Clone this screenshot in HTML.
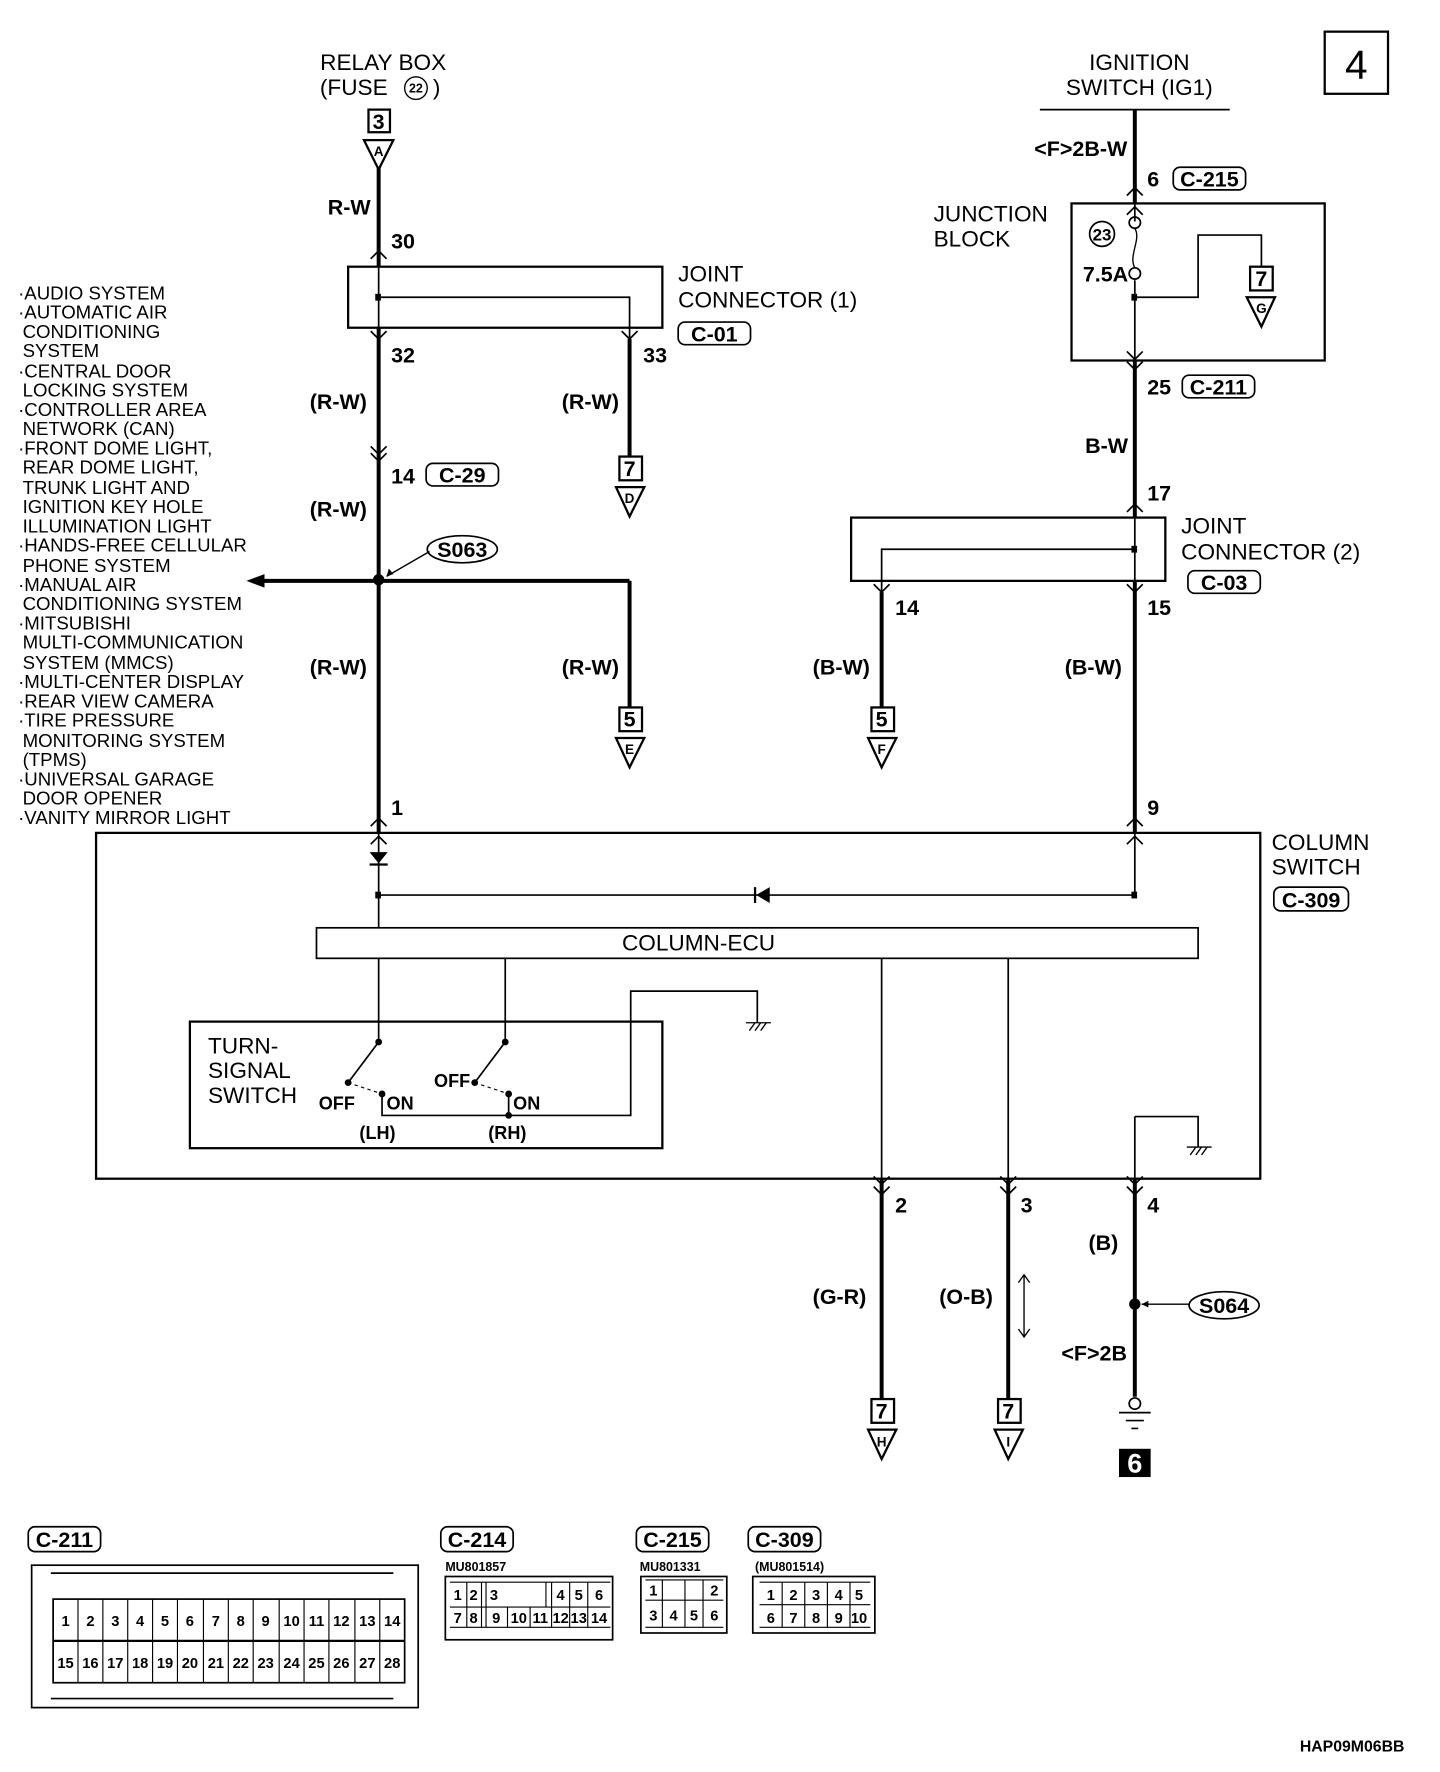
<!DOCTYPE html>
<html><head><meta charset="utf-8"><style>
html,body{margin:0;padding:0;background:#fff;}
svg{display:block;}
.t{font-family:"Liberation Sans",sans-serif;font-size:20px;fill:#000;}
.b{font-family:"Liberation Sans Narrow","Liberation Sans",sans-serif;font-weight:bold;font-size:19px;fill:#000;}
.s{font-family:"Liberation Sans",sans-serif;font-size:16.5px;fill:#000;}
.n{font-family:"Liberation Sans Narrow","Liberation Sans",sans-serif;font-weight:bold;font-size:14px;fill:#000;}
</style></head><body>
<svg width="1440" height="1772" viewBox="0 0 1274 1568" preserveAspectRatio="none" xmlns="http://www.w3.org/2000/svg">
<defs>
<g id="up"><path d="M-7,7 L0,0 L7,7" fill="none" stroke="#000" stroke-width="1.5"/></g>
<g id="dn"><path d="M-7,-7 L0,0 L7,-7" fill="none" stroke="#000" stroke-width="1.5"/></g>
</defs>
<g stroke="#000" fill="none">
<line x1="335" y1="148" x2="335" y2="236" stroke-width="3.5"/>
<line x1="335" y1="236" x2="335" y2="290" stroke-width="1.5"/>
<line x1="335" y1="290" x2="335" y2="737" stroke-width="3.5"/>
<line x1="335" y1="737" x2="335" y2="821" stroke-width="1.5"/>
<rect x="308" y="236" width="278" height="54" stroke-width="2"/>
<polyline points="335,263 557,263 557,300" stroke-width="1.5"/>
<line x1="557" y1="300" x2="557" y2="404" stroke-width="3.5"/>
<line x1="230" y1="514" x2="557" y2="514" stroke-width="3.5"/>
<line x1="557" y1="514" x2="557" y2="626" stroke-width="3.5"/>
<line x1="920" y1="97" x2="1088" y2="97" stroke-width="1.5"/>
<line x1="1004" y1="97" x2="1004" y2="180" stroke-width="3.5"/>
<line x1="1004" y1="180" x2="1004" y2="196" stroke-width="1.5"/>
<rect x="948" y="180" width="224" height="139" stroke-width="2"/>
<line x1="1004" y1="248" x2="1004" y2="319" stroke-width="1.5"/>
<polyline points="1004,263 1060,263 1060,208 1116,208 1116,236" stroke-width="1.5"/>
<line x1="1004" y1="319" x2="1004" y2="458" stroke-width="3.5"/>
<rect x="753" y="458" width="278" height="56" stroke-width="2"/>
<line x1="1004" y1="458" x2="1004" y2="514" stroke-width="1.5"/>
<polyline points="1004,486 780,486 780,524" stroke-width="1.5"/>
<line x1="780" y1="524" x2="780" y2="626" stroke-width="3.5"/>
<line x1="1004" y1="514" x2="1004" y2="737" stroke-width="3.5"/>
<line x1="1004" y1="737" x2="1004" y2="792" stroke-width="1.5"/>
<rect x="85" y="737" width="1030" height="306" stroke-width="2"/>
<line x1="335" y1="792" x2="1004" y2="792" stroke-width="1.5"/>
<rect x="280" y="821" width="780" height="27" stroke-width="1.5"/>
<line x1="335" y1="848" x2="335" y2="922" stroke-width="1.5"/>
<line x1="447" y1="848" x2="447" y2="922" stroke-width="1.5"/>
<rect x="168" y="904" width="418" height="112" stroke-width="2"/>
<line x1="335" y1="922" x2="308" y2="958" stroke-width="1.5"/>
<line x1="447" y1="922" x2="420" y2="958" stroke-width="1.5"/>
<path d="M308,958 L338,968 M420,958 L450,968" stroke-width="1" stroke-dasharray="3,3"/>
<polyline points="338,968 338,987 558,987 558,877 670,877 670,905" stroke-width="1.5"/>
<line x1="450" y1="968" x2="450" y2="987" stroke-width="1.5"/>
<path d="M660,905 H682 M663,912 l5,-7 M668,912 l5,-7 M673,912 l5,-7" stroke-width="1.2"/>
<polyline points="1004,988 1060,988 1060,1015" stroke-width="1.5"/>
<path d="M1050,1015 H1072 M1053,1022 l5,-7 M1058,1022 l5,-7 M1063,1022 l5,-7" stroke-width="1.2"/>
<line x1="780" y1="848" x2="780" y2="1043" stroke-width="1.5"/>
<line x1="892" y1="848" x2="892" y2="1043" stroke-width="1.5"/>
<line x1="1004" y1="988" x2="1004" y2="1043" stroke-width="1.5"/>
<line x1="780" y1="1043" x2="780" y2="1238" stroke-width="3.5"/>
<line x1="892" y1="1043" x2="892" y2="1238" stroke-width="3.5"/>
<line x1="1004" y1="1043" x2="1004" y2="1236" stroke-width="3.5"/>
<circle cx="1004" cy="1242" r="5" stroke-width="1.5" fill="#fff"/>
<path d="M990,1250 H1018 M996,1257 H1012 M1001,1264 H1007" stroke-width="1.5"/>
<path d="M906,1128 V1183 M901,1135 L906,1128 L911,1135 M901,1176 L906,1183 L911,1176" stroke-width="1.2"/>
<path d="M380,488 L342,510" stroke-width="1.2"/>
<path d="M1052,1154 L1010,1154" stroke-width="1.2"/>
<ellipse cx="409" cy="486" rx="31" ry="12" stroke-width="1.5"/>
<ellipse cx="1083" cy="1155" rx="31" ry="12" stroke-width="1.5"/>
<circle cx="1004" cy="197" r="5" stroke-width="1.5"/>
<circle cx="1004" cy="242" r="5" stroke-width="1.5"/>
<path d="M1004,202 C1010,212 998,226 1004,237" stroke-width="1.2"/>
<circle cx="975" cy="207" r="11" stroke-width="1.5"/>
<circle cx="368" cy="78" r="10" stroke-width="1.2"/>
<rect x="326" y="97" width="19" height="20" stroke-width="2"/>
<path d="M322,124 H348 L335,150 Z" stroke-width="2"/>
<rect x="548" y="404" width="20" height="21" stroke-width="2"/>
<path d="M545,431 H570 L557,457 Z" stroke-width="2"/>
<rect x="548" y="626" width="20" height="21" stroke-width="2"/>
<path d="M545,653 H570 L557,679 Z" stroke-width="2"/>
<rect x="771" y="626" width="20" height="21" stroke-width="2"/>
<path d="M768,653 H793 L780,679 Z" stroke-width="2"/>
<rect x="1106" y="236" width="20" height="21" stroke-width="2"/>
<path d="M1103,263 H1128 L1116,289 Z" stroke-width="2"/>
<rect x="771" y="1238" width="20" height="21" stroke-width="2"/>
<path d="M768,1265 H793 L780,1291 Z" stroke-width="2"/>
<rect x="883" y="1238" width="20" height="21" stroke-width="2"/>
<path d="M880,1265 H905 L892,1291 Z" stroke-width="2"/>
<rect x="600" y="285" width="64" height="20" rx="6" stroke-width="1.5"/>
<rect x="377" y="410" width="64" height="20" rx="6" stroke-width="1.5"/>
<rect x="1038" y="148" width="64" height="20" rx="6" stroke-width="1.5"/>
<rect x="1046" y="332" width="64" height="20" rx="6" stroke-width="1.5"/>
<rect x="1051" y="505" width="64" height="20" rx="6" stroke-width="1.5"/>
<rect x="1127" y="785" width="66" height="21" rx="6" stroke-width="1.5"/>
<rect x="1172" y="28" width="56" height="55" stroke-width="2"/>
</g>
<use href="#up" x="335" y="222"/><use href="#dn" x="335" y="300"/><use href="#dn" x="557" y="300"/>
<use href="#dn" x="335" y="402"/><use href="#dn" x="335" y="408"/>
<use href="#up" x="335" y="724"/><use href="#up" x="335" y="740"/>
<use href="#up" x="1004" y="166"/><use href="#up" x="1004" y="183"/>
<use href="#dn" x="1004" y="318"/><use href="#dn" x="1004" y="327"/>
<use href="#up" x="1004" y="446"/><use href="#dn" x="1004" y="524"/><use href="#dn" x="780" y="524"/>
<use href="#up" x="1004" y="724"/><use href="#up" x="1004" y="740"/>
<use href="#dn" x="780" y="1048"/><use href="#dn" x="780" y="1057"/>
<use href="#dn" x="892" y="1048"/><use href="#dn" x="892" y="1057"/>
<use href="#dn" x="1004" y="1048"/><use href="#dn" x="1004" y="1057"/>
<g fill="#000">
<path d="M218,514 L234,508 L234,520 Z"/>
<circle cx="335" cy="513" r="5"/>
<circle cx="1004" cy="1154" r="5"/>
<path d="M1010,1154 l6,-3 v6 z"/>
<path d="M342,510 l2,-7 l4,5 z"/>
<path d="M327,754 H343 L335,764 Z"/><rect x="327" y="764" width="16" height="2"/>
<path d="M669,792 L681,785 L681,799 Z"/><rect x="667" y="785" width="2" height="14"/>
<rect x="332" y="260" width="5" height="6"/><rect x="1001" y="483" width="5" height="6"/>
<rect x="1001" y="260" width="5" height="6"/>
<rect x="332" y="789" width="5" height="6"/><rect x="1001" y="789" width="5" height="6"/>
<circle cx="335" cy="922" r="3"/><circle cx="447" cy="922" r="3"/>
<circle cx="308" cy="958" r="3"/><circle cx="420" cy="958" r="3"/>
<circle cx="338" cy="968" r="3"/><circle cx="450" cy="968" r="3"/><circle cx="450" cy="987" r="3"/>
<rect x="990" y="1282" width="28" height="25"/>
</g>
<text class="t" x="339" y="62" text-anchor="middle">RELAY BOX</text>
<text class="t" x="283" y="84">(FUSE</text><text class="t" x="383" y="84">)</text>
<text class="n" x="368" y="82" text-anchor="middle" style="font-size:11px">22</text>
<text class="b" x="335" y="114" text-anchor="middle">3</text>
<text class="n" x="335" y="138" text-anchor="middle" style="font-size:12px">A</text>
<text class="b" x="290" y="190">R-W</text>
<text class="b" x="346" y="220">30</text>
<text class="t" x="600" y="249">JOINT</text><text class="t" x="600" y="272">CONNECTOR (1)</text>
<text class="b" x="632" y="302" text-anchor="middle">C-01</text>
<text class="b" x="346" y="321">32</text><text class="b" x="569" y="321">33</text>
<text class="b" x="274" y="362">(R-W)</text><text class="b" x="497" y="362">(R-W)</text>
<text class="b" x="557" y="421" text-anchor="middle">7</text><text class="n" x="557" y="445" text-anchor="middle" style="font-size:12px">D</text>
<text class="b" x="346" y="428">14</text><text class="b" x="409" y="427" text-anchor="middle">C-29</text>
<text class="b" x="274" y="457">(R-W)</text>
<text class="b" x="409" y="493" text-anchor="middle">S063</text>
<text class="b" x="274" y="597">(R-W)</text><text class="b" x="497" y="597">(R-W)</text>
<text class="b" x="557" y="643" text-anchor="middle">5</text><text class="n" x="557" y="667" text-anchor="middle" style="font-size:12px">E</text>
<text class="b" x="346" y="721">1</text>
<g class="s">
<text x="16" y="265">·AUDIO SYSTEM</text>
<text x="16" y="282">·AUTOMATIC AIR</text>
<text x="20" y="299">CONDITIONING</text>
<text x="20" y="316">SYSTEM</text>
<text x="16" y="334">·CENTRAL DOOR</text>
<text x="20" y="351">LOCKING SYSTEM</text>
<text x="16" y="368">·CONTROLLER AREA</text>
<text x="20" y="385">NETWORK (CAN)</text>
<text x="16" y="402">·FRONT DOME LIGHT,</text>
<text x="20" y="419">REAR DOME LIGHT,</text>
<text x="20" y="437">TRUNK LIGHT AND</text>
<text x="20" y="454">IGNITION KEY HOLE</text>
<text x="20" y="471">ILLUMINATION LIGHT</text>
<text x="16" y="488">·HANDS-FREE CELLULAR</text>
<text x="20" y="506">PHONE SYSTEM</text>
<text x="16" y="523">·MANUAL AIR</text>
<text x="20" y="540">CONDITIONING SYSTEM</text>
<text x="16" y="557">·MITSUBISHI</text>
<text x="20" y="574">MULTI-COMMUNICATION</text>
<text x="20" y="592">SYSTEM (MMCS)</text>
<text x="16" y="609">·MULTI-CENTER DISPLAY</text>
<text x="16" y="626">·REAR VIEW CAMERA</text>
<text x="16" y="643">·TIRE PRESSURE</text>
<text x="20" y="661">MONITORING SYSTEM</text>
<text x="20" y="678">(TPMS)</text>
<text x="16" y="695">·UNIVERSAL GARAGE</text>
<text x="20" y="712">DOOR OPENER</text>
<text x="16" y="729">·VANITY MIRROR LIGHT</text>
</g>
<text class="t" x="1008" y="62" text-anchor="middle">IGNITION</text>
<text class="t" x="1008" y="84" text-anchor="middle">SWITCH (IG1)</text>
<text class="t" x="1200" y="70" text-anchor="middle" style="font-size:36px">4</text>
<text class="b" x="915" y="138">&lt;F&gt;2B-W</text>
<text class="b" x="1015" y="165">6</text><text class="b" x="1070" y="165" text-anchor="middle">C-215</text>
<text class="t" x="826" y="196">JUNCTION</text><text class="t" x="826" y="218">BLOCK</text>
<text class="b" x="975" y="213" text-anchor="middle" style="font-size:15px">23</text>
<text class="b" x="958" y="249">7.5A</text>
<text class="b" x="1116" y="253" text-anchor="middle">7</text><text class="n" x="1116" y="277" text-anchor="middle" style="font-size:12px">G</text>
<text class="b" x="1015" y="349">25</text><text class="b" x="1078" y="349" text-anchor="middle">C-211</text>
<text class="b" x="960" y="401">B-W</text>
<text class="b" x="1015" y="443">17</text>
<text class="t" x="1045" y="472">JOINT</text><text class="t" x="1045" y="495">CONNECTOR (2)</text>
<text class="b" x="1083" y="522" text-anchor="middle">C-03</text>
<text class="b" x="792" y="544">14</text><text class="b" x="1015" y="544">15</text>
<text class="b" x="719" y="597">(B-W)</text><text class="b" x="942" y="597">(B-W)</text>
<text class="b" x="780" y="643" text-anchor="middle">5</text><text class="n" x="780" y="667" text-anchor="middle" style="font-size:12px">F</text>
<text class="b" x="1015" y="721">9</text>
<text class="t" x="1125" y="752">COLUMN</text><text class="t" x="1125" y="774">SWITCH</text>
<text class="b" x="1160" y="803" text-anchor="middle">C-309</text>
<text class="t" x="618" y="841" text-anchor="middle">COLUMN-ECU</text>
<text class="t" x="184" y="932">TURN-</text><text class="t" x="184" y="954">SIGNAL</text><text class="t" x="184" y="976">SWITCH</text>
<text class="b" x="282" y="982" style="font-size:16px">OFF</text><text class="b" x="342" y="982" style="font-size:16px">ON</text>
<text class="b" x="384" y="962" style="font-size:16px">OFF</text><text class="b" x="454" y="982" style="font-size:16px">ON</text>
<text class="b" x="318" y="1008" style="font-size:16px">(LH)</text><text class="b" x="432" y="1008" style="font-size:16px">(RH)</text>
<text class="b" x="792" y="1073">2</text><text class="b" x="903" y="1073">3</text><text class="b" x="1015" y="1073">4</text>
<text class="b" x="963" y="1106">(B)</text>
<text class="b" x="719" y="1154">(G-R)</text><text class="b" x="831" y="1154">(O-B)</text>
<text class="b" x="1083" y="1162" text-anchor="middle">S064</text>
<text class="b" x="939" y="1204">&lt;F&gt;2B</text>
<text class="b" x="1004" y="1303" text-anchor="middle" style="fill:#fff;font-size:24px">6</text>
<text class="b" x="780" y="1255" text-anchor="middle">7</text><text class="n" x="780" y="1280" text-anchor="middle" style="font-size:12px">H</text>
<text class="b" x="892" y="1255" text-anchor="middle">7</text><text class="n" x="892" y="1280" text-anchor="middle" style="font-size:12px">I</text>
<text class="b" x="1150" y="1550" style="font-size:14px">HAP09M06BB</text>
<g stroke="#000" fill="none" stroke-width="1.5">
<rect x="25" y="1351" width="64" height="22" rx="6"/>
<rect x="390" y="1351" width="64" height="22" rx="6"/>
<rect x="563" y="1351" width="64" height="22" rx="6"/>
<rect x="662" y="1351" width="64" height="22" rx="6"/>
<rect x="28" y="1385" width="342" height="126"/>
<line x1="45" y1="1392" x2="348" y2="1392"/><line x1="45" y1="1503" x2="348" y2="1503"/>
<rect x="47" y="1415" width="311" height="74"/>
<line x1="47" y1="1452" x2="358" y2="1452" stroke-width="2"/>
<rect x="394" y="1395" width="148" height="56"/>
<rect x="567" y="1395" width="76" height="50"/>
<rect x="666" y="1395" width="108" height="50"/>
</g>
<text class="b" x="57" y="1369" text-anchor="middle">C-211</text>
<text class="b" x="422" y="1369" text-anchor="middle">C-214</text>
<text class="b" x="595" y="1369" text-anchor="middle">C-215</text>
<text class="b" x="694" y="1369" text-anchor="middle">C-309</text>
<text class="n" x="394" y="1390" style="font-size:11px">MU801857</text>
<text class="n" x="566" y="1390" style="font-size:11px">MU801331</text>
<text class="n" x="668" y="1390" style="font-size:11px">(MU801514)</text>
<g stroke="#000" stroke-width="1" fill="none">
<path d="M47,1415 V1489 M69,1415 V1489 M91,1415 V1489 M113,1415 V1489 M135,1415 V1489 M157,1415 V1489 M180,1415 V1489 M202,1415 V1489 M224,1415 V1489 M247,1415 V1489 M269,1415 V1489 M291,1415 V1489 M314,1415 V1489 M336,1415 V1489"/>
<path d="M398,1400 H540 M398,1422 H540 M398,1440 H540 M413,1400 V1440 M426,1400 V1440 M449,1422 V1440 M469,1422 V1440 M488,1400 V1440 M504,1400 V1440 M520,1400 V1440 M430,1400 V1440 M483,1400 V1422"/>
<path d="M571,1398 H640 M571,1416 H640 M571,1440 H640 M586,1398 V1440 M606,1398 V1440 M622,1398 V1440"/>
<path d="M672,1400 H770 M672,1420 H770 M672,1440 H770 M692,1400 V1440 M712,1400 V1440 M732,1400 V1440 M752,1400 V1440"/>
</g>
<g class="n" text-anchor="middle" style="font-size:13px">
<text x="58" y="1439">1</text><text x="80" y="1439">2</text><text x="102" y="1439">3</text><text x="124" y="1439">4</text><text x="146" y="1439">5</text><text x="168" y="1439">6</text><text x="191" y="1439">7</text><text x="213" y="1439">8</text><text x="235" y="1439">9</text><text x="258" y="1439">10</text><text x="280" y="1439">11</text><text x="302" y="1439">12</text><text x="325" y="1439">13</text><text x="347" y="1439">14</text>
<text x="58" y="1476">15</text><text x="80" y="1476">16</text><text x="102" y="1476">17</text><text x="124" y="1476">18</text><text x="146" y="1476">19</text><text x="168" y="1476">20</text><text x="191" y="1476">21</text><text x="213" y="1476">22</text><text x="235" y="1476">23</text><text x="258" y="1476">24</text><text x="280" y="1476">25</text><text x="302" y="1476">26</text><text x="325" y="1476">27</text><text x="347" y="1476">28</text>
<text x="405" y="1416">1</text><text x="419" y="1416">2</text><text x="437" y="1416">3</text><text x="496" y="1416">4</text><text x="512" y="1416">5</text><text x="530" y="1416">6</text>
<text x="405" y="1436">7</text><text x="419" y="1436">8</text><text x="439" y="1436">9</text><text x="459" y="1436">10</text><text x="478" y="1436">11</text><text x="496" y="1436">12</text><text x="512" y="1436">13</text><text x="530" y="1436">14</text>
<text x="578" y="1412">1</text><text x="632" y="1412">2</text>
<text x="578" y="1434">3</text><text x="596" y="1434">4</text><text x="614" y="1434">5</text><text x="632" y="1434">6</text>
<text x="682" y="1416">1</text><text x="702" y="1416">2</text><text x="722" y="1416">3</text><text x="742" y="1416">4</text><text x="760" y="1416">5</text>
<text x="682" y="1436">6</text><text x="702" y="1436">7</text><text x="722" y="1436">8</text><text x="742" y="1436">9</text><text x="760" y="1436">10</text>
</g>
</svg>
</body></html>
